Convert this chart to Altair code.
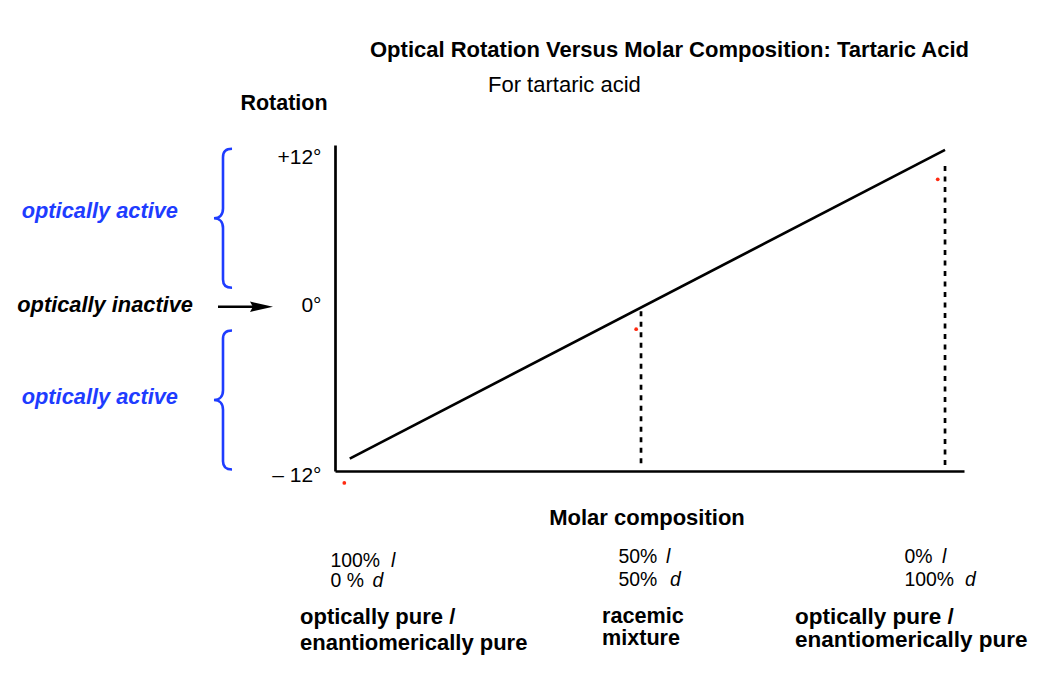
import altair as alt
import pandas as pd

FONT = "Liberation Sans"
BLUE = "#1e3cff"
RED = "#ff2a10"

# ---------------- data ----------------
title_text = "Optical Rotation Versus Molar Composition: Tartaric Acid"
subtitle_text = "For tartaric acid"
y_title = "Rotation"
x_title = "Molar composition"

tick_values = [12, 0, -12]
tick_labels = ["+12°", "0°", "– 12°"]

# composition (% d) and rotation
line_x = [2.1, 100.0]
line_y = [-11.5, 12.6]

rule_x = [50, 100]
rule_top = [0.0, 11.35]
rule_bottom = [-12.25, -12.25]

dot_x = [1.2, 49.2, 98.8]
dot_y = [-13.4, -1.4, 10.3]

side_labels = ["optically active", "optically inactive", "optically active"]
comp_l_num = ["100%", "50%", "0%"]
comp_d_num = ["0 %", "50%", "100%"]
comp_l_sym = ["l", "l", "l"]
comp_d_sym = ["d", "d", "d"]
descriptors = [["optically pure /", "enantiomerically pure"],
               ["racemic", "mixture"],
               ["optically pure /", "enantiomerically pure"]]

# ---------------- scales / axes ----------------
label_expr = " : ".join(f"datum.value == {v} ? '{t}'" for v, t in zip(tick_values, tick_labels)) + " : ''"


def xenc(field="x"):
    return alt.X(f"{field}:Q",
                 scale=alt.Scale(domain=[-0.33, 103.12], nice=False, zero=False),
                 axis=alt.Axis(labels=False, ticks=False, grid=False,
                               domainColor="black", domainWidth=2.7,
                               title=x_title, titleFont=FONT, titleFontSize=22,
                               titleFontWeight="bold", titleColor="black",
                               titleX=311.5, titleY=53, titleAlign="center",
                               titleBaseline="alphabetic"))


def yenc(field="y"):
    return alt.Y(f"{field}:Q",
                 scale=alt.Scale(domain=[-12.47, 12.98], nice=False, zero=False),
                 axis=alt.Axis(values=tick_values, labelExpr=label_expr,
                               ticks=False, tickSize=0, grid=False,
                               domainColor="black", domainWidth=2.7,
                               labelFont=FONT, labelFontSize=21, labelColor="black",
                               labelPadding=14,
                               labelBaseline={"condition": [
                                   {"test": "datum.value < 0", "value": "top"},
                                   {"test": "datum.value == 0", "value": "alphabetic"}],
                                   "value": "middle"},
                               title=y_title, titleFont=FONT, titleFontSize=21.5,
                               titleFontWeight="bold", titleColor="black",
                               titleAngle=0, titleX=-51.5, titleY=-35.3,
                               titleAlign="center", titleBaseline="alphabetic"))


layers = []

line_df = pd.DataFrame({"x": line_x, "y": line_y})
layers.append(alt.Chart(line_df).mark_line(color="black", strokeWidth=2.7)
              .encode(x=xenc(), y=yenc()))

rule_df = pd.DataFrame({"x": rule_x, "y": rule_top, "y2": rule_bottom})
layers.append(alt.Chart(rule_df).mark_rule(color="black", strokeWidth=2.7, strokeDash=[5, 5.5])
              .encode(x=xenc(), y=yenc(), y2="y2:Q"))

dot_df = pd.DataFrame({"x": dot_x, "y": dot_y})
layers.append(alt.Chart(dot_df).mark_point(filled=True, color=RED, size=14, opacity=1)
              .encode(x=xenc(), y=yenc()))


def txt(s, x, y, size=21, weight="normal", style="normal", color="black",
        align="left", line_height=26):
    df = pd.DataFrame({"label": [s]})
    return (alt.Chart(df)
            .mark_text(align=align, baseline="alphabetic", font=FONT, fontSize=size,
                       fontWeight=weight, fontStyle=style, color=color,
                       lineBreak="\n", lineHeight=line_height)
            .encode(x=alt.value(x), y=alt.value(y), text="label:N"))


# titles
layers.append(txt(title_text, 35, -87.7, size=22, weight="bold"))
layers.append(txt(subtitle_text, 153, -53.3, size=22))

# side labels
side_pos = [(-313.3, 73.3, BLUE), (-317.7, 166.7, "black"), (-313.3, 259.3, BLUE)]
for s, (px, py, c) in zip(side_labels, side_pos):
    layers.append(txt(s, px, py, size=21.8, weight="bold", style="italic", color=c))

# braces
BRACE = ("M0.13,-1 C0.04,-1 0,-0.96 0,-0.88 L0,-0.14 C0,-0.05 -0.05,0 -0.13,0 "
         "C-0.05,0 0,0.05 0,0.14 L0,0.88 C0,0.96 0.04,1 0.13,1")
for cy in [73.3, 255.0]:
    layers.append(alt.Chart(pd.DataFrame({"k": [0]}))
                  .mark_point(shape=BRACE, filled=False, color=BLUE, strokeWidth=2.6,
                              opacity=1, size=19321)
                  .encode(x=alt.value(-112), y=alt.value(cy)))

# arrow
layers.append(alt.Chart(pd.DataFrame({"k": [0]}))
              .mark_rule(color="black", strokeWidth=2.6)
              .encode(x=alt.value(-117), x2=alt.value(-80), y=alt.value(161.7)))
layers.append(alt.Chart(pd.DataFrame({"k": [0]}))
              .mark_point(shape="M-1,-0.45L1,0L-1,0.45L-0.75,0Z", filled=True,
                          color="black", opacity=1, size=529)
              .encode(x=alt.value(-73.5), y=alt.value(161.7)))

# composition labels
l_num_pos = [(-4.5, 422), (283.5, 418.3), (569.5, 418.3)]
l_sym_pos = [(56, 422), (331, 418.3), (607, 418.3)]
d_num_pos = [(-4.5, 441.5), (283.5, 440.5), (569.5, 440.5)]
d_sym_pos = [(37.5, 441.5), (335, 440.5), (630, 440.5)]
CS = 19.4
for s, (px, py) in zip(comp_l_num, l_num_pos):
    layers.append(txt(s, px, py, size=CS))
for s, (px, py) in zip(comp_l_sym, l_sym_pos):
    layers.append(txt(s, px, py, size=CS, style="italic"))
for s, (px, py) in zip(comp_d_num, d_num_pos):
    layers.append(txt(s, px, py, size=CS))
for s, (px, py) in zip(comp_d_sym, d_sym_pos):
    layers.append(txt(s, px, py, size=CS, style="italic"))

desc_pos = [(-35, 479, 26, 22), (267, 477.5, 22, 21.6), (460, 479, 22.5, 22.5)]
for lines, (px, py, lh, fs) in zip(descriptors, desc_pos):
    layers.append(txt("\n".join(lines), px, py, size=fs, weight="bold", line_height=lh))

chart = (alt.layer(*layers)
         .properties(width=629, height=326,
                     autosize=alt.AutoSizeParams(type="none"),
                     padding={"left": 327, "top": 137, "right": 72, "bottom": 200},
                     background="white")
         .configure_view(stroke=None))

chart.save("out.html", embed_options={"renderer": "svg", "actions": False})
